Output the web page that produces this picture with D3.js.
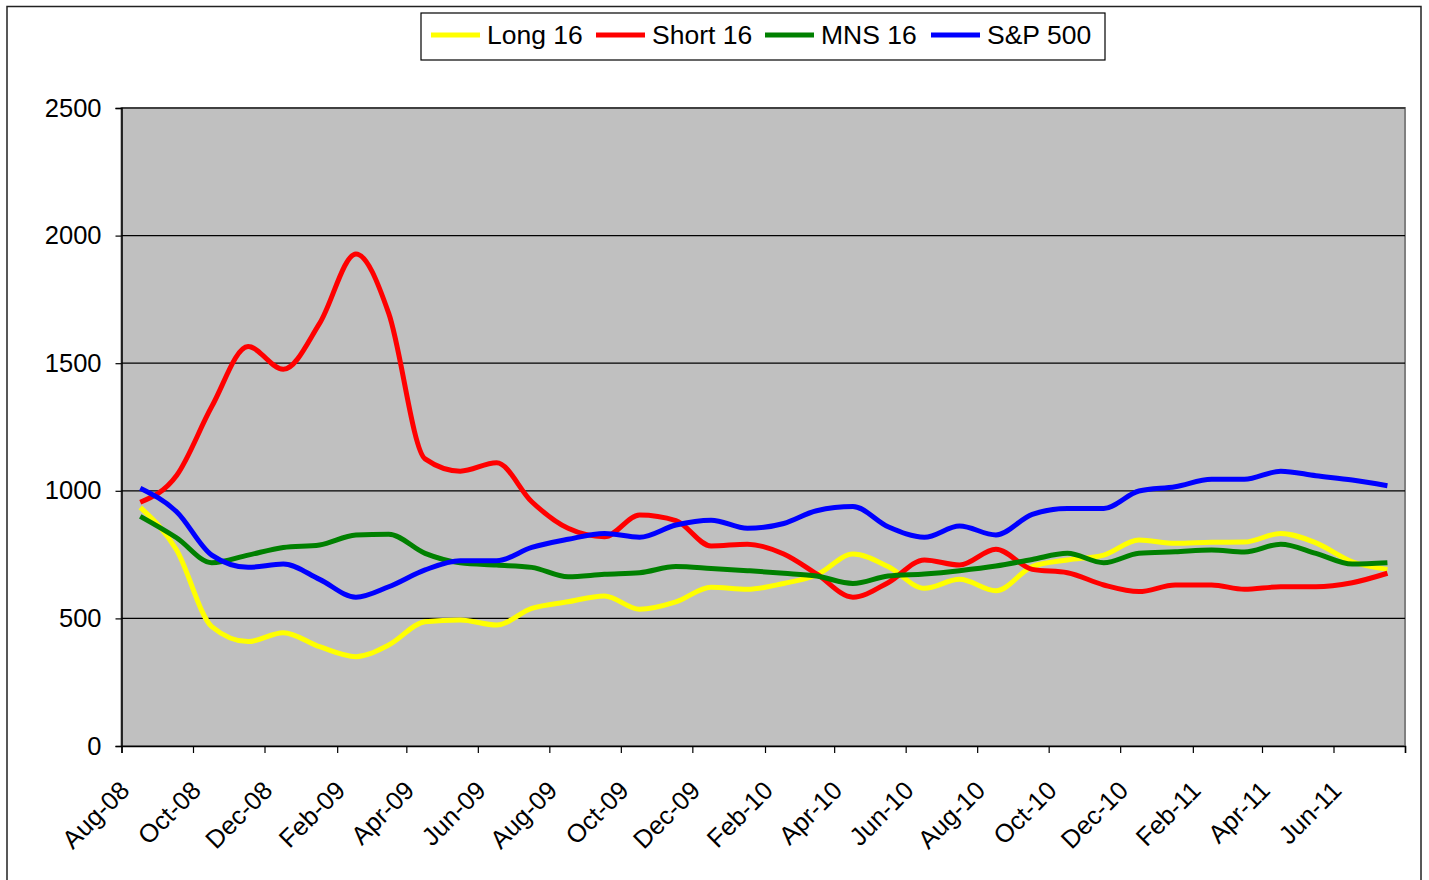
<!DOCTYPE html>
<html>
<head>
<meta charset="utf-8">
<script src="https://cdn.jsdelivr.net/npm/d3@7"></script>
<style>
  body { margin: 0; background: #fff; }
  svg text { font-family: "Liberation Sans", Arial, sans-serif; fill: #000; }
</style>
</head>
<body>
<svg id="chart" width="1429" height="880"></svg>
<script>
// monthly observations, mid-month, Aug-08 .. Jul-11
var months = d3.timeMonth.range(new Date(2008, 7, 1), new Date(2011, 7, 1))
    .map(function(d) { return d3.timeDay.offset(d, 16); });

var long16 = [935, 768, 468, 409, 444, 389, 350, 396, 487, 494, 474, 539,
              565, 588, 536, 565, 622, 614, 637, 670, 752, 703, 618, 653,
              608, 703, 729, 748, 807, 794, 798, 799, 833, 796, 722, 692];
var short16 = [955, 1060, 1330, 1565, 1476, 1656, 1928, 1695, 1125, 1077, 1110, 957,
               853, 820, 905, 883, 784, 791, 752, 674, 583, 640, 729, 709,
               771, 692, 679, 631, 605, 631, 631, 614, 624, 624, 640, 677];
var mns16 = [900, 816, 718, 748, 778, 788, 827, 830, 755, 718, 709, 700,
             663, 673, 679, 703, 696, 687, 677, 666, 637, 666, 674, 687,
             705, 731, 755, 718, 755, 761, 768, 760, 791, 755, 713, 718];
var sp500 = [1010, 918, 748, 700, 713, 653, 583, 624, 690, 726, 726, 778,
             810, 833, 818, 866, 885, 853, 872, 922, 938, 859, 818, 862,
             827, 908, 931, 931, 999, 1016, 1045, 1045, 1077, 1059, 1042, 1020];

var seriesNames = ["Long 16", "Short 16", "MNS 16", "S&P 500"];
var seriesColors = ["#FFFF00", "#FF0000", "#008000", "#0000FF"];
var seriesValues = [long16, short16, mns16, sp500];

var yTicks = [0, 500, 1000, 1500, 2000, 2500];
var xTicks = d3.timeMonth.every(1).range(new Date(2008, 7, 1), new Date(2011, 7, 2))
    .filter(function(d, i) { return i % 2 == 0; });
var lastLabel = new Date(2011, 5, 1);

var svg = d3.select("#chart");

// outer frame
svg.append("rect").attr("x", 7).attr("y", 6.5).attr("width", 1414).attr("height", 900)
    .attr("fill", "#fff").attr("stroke", "#222").attr("stroke-width", 1.5);

var plotLeft = 121.5, plotRight = 1405, plotTop = 108, plotBottom = 746;

var x = d3.scaleTime().domain([new Date(2008, 7, 1), new Date(2011, 7, 1)]).range([plotLeft, plotRight]);
var y = d3.scaleLinear().domain([0, 2500]).range([plotBottom, plotTop]);

// plot area
svg.append("rect").attr("x", plotLeft).attr("y", plotTop)
    .attr("width", plotRight - plotLeft).attr("height", plotBottom - plotTop)
    .attr("fill", "#C0C0C0").attr("stroke", "#808080").attr("stroke-width", 2);

// gridlines
svg.append("g").selectAll("line").data(yTicks.slice(1)).join("line")
    .attr("x1", plotLeft).attr("x2", plotRight)
    .attr("y1", function(d) { return y(d); }).attr("y2", function(d) { return y(d); })
    .attr("stroke", "#000").attr("stroke-width", 1.2);

// y axis
var yAxis = svg.append("g").attr("transform", "translate(" + plotLeft + ",0)")
    .call(d3.axisLeft(y).tickValues(yTicks).tickSize(6).tickPadding(14).tickFormat(d3.format("d")));
yAxis.select(".domain").attr("stroke", "#000").attr("stroke-width", 1.5);
yAxis.selectAll(".tick line").attr("stroke", "#000").attr("stroke-width", 1.2);
yAxis.selectAll(".tick text").attr("font-size", 25.5).attr("font-family", "Liberation Sans, Arial, sans-serif")
    .attr("fill", "#000");

// x axis
var xAxis = svg.append("g").attr("transform", "translate(0," + plotBottom + ")")
    .call(d3.axisBottom(x).tickValues(xTicks).tickSize(7)
        .tickFormat(function(d) { return d > lastLabel ? "" : d3.timeFormat("%b-%y")(d); }));
xAxis.select(".domain").attr("stroke", "#000").attr("stroke-width", 1.5);
xAxis.selectAll(".tick line").attr("stroke", "#000").attr("stroke-width", 1.2);
xAxis.selectAll(".tick text")
    .attr("font-size", 25.5).attr("font-family", "Liberation Sans, Arial, sans-serif").attr("fill", "#000")
    .attr("text-anchor", "end").attr("dy", null).attr("y", 0)
    .attr("transform", "translate(9,46) rotate(-45)");

// lines
var line = d3.line()
    .x(function(d, i) { return x(months[i]); })
    .y(function(d) { return y(d); })
    .curve(d3.curveMonotoneX);

svg.append("g").selectAll("path").data(seriesValues).join("path")
    .attr("d", function(d) { return line(d); })
    .attr("fill", "none")
    .attr("stroke", function(d, i) { return seriesColors[i]; })
    .attr("stroke-width", 5)
    .attr("stroke-linejoin", "round");

// legend
var legend = svg.append("g");
legend.append("rect").attr("x", 421).attr("y", 13).attr("width", 684).attr("height", 47)
    .attr("fill", "#fff").attr("stroke", "#000").attr("stroke-width", 1.2);
var legendX = [431, 596, 765, 931];
var item = legend.selectAll("g.item").data(seriesNames).join("g").attr("class", "item")
    .attr("transform", function(d, i) { return "translate(" + legendX[i] + ",35)"; });
item.append("line").attr("x1", 0).attr("x2", 49).attr("y1", 0).attr("y2", 0)
    .attr("stroke", function(d, i) { return seriesColors[i]; }).attr("stroke-width", 5);
item.append("text").attr("x", 56).attr("y", 0).attr("dy", "0.35em")
    .attr("font-size", 26.5).text(function(d) { return d; });
</script>
</body>
</html>
